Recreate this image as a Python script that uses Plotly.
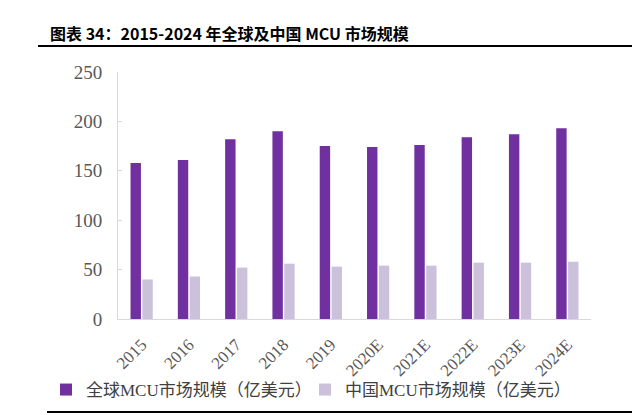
import plotly.graph_objects as go

years = ["2015", "2016", "2017", "2018", "2019", "2020E", "2021E", "2022E", "2023E", "2024E"]
global_mcu = [158, 161, 182, 190, 175, 174, 176, 184, 187, 193]
china_mcu = [40, 43, 52, 56, 53, 54, 54, 57, 57, 58]

# the page puts the figure 8px in from the top-left corner, so the figure is
# made 8px smaller and reference pixel positions are shifted by OFF
OFF = 8
W, H = 640 - OFF, 415 - OFF
L, R, T, B = 118 - OFF, 49, 72 - OFF, 96
PW, PH = W - L - R, H - T - B


def px(x):
    return (x - OFF - L) / PW


def py(y):
    return 1 - (y - OFF - T) / PH


SERIF = "Liberation Serif, Times New Roman, Noto Sans CJK SC, serif"

fig = go.Figure()
fig.add_trace(go.Bar(x=years, y=global_mcu, name="全球MCU市场规模（亿美元）",
                     marker=dict(color="#7030A0", line=dict(width=0))))
fig.add_trace(go.Bar(x=years, y=china_mcu, name="中国MCU市场规模（亿美元）",
                     marker=dict(color="#CCC1DA", line=dict(width=0))))

fig.update_layout(
    width=W, height=H,
    margin=dict(l=L, r=R, t=T, b=B, autoexpand=False),
    paper_bgcolor="white", plot_bgcolor="white",
    barmode="group", bargap=0.5, bargroupgap=0.12,
    font=dict(family=SERIF, size=16, color="#595959"),
    legend=dict(orientation="h", x=px(46), y=py(390), xanchor="left", yanchor="middle",
                font=dict(family=SERIF, size=17, color="#404040"),
                bgcolor="rgba(0,0,0,0)",
                entrywidth=214, entrywidthmode="pixels",
                itemwidth=30, traceorder="normal"),
    showlegend=True,
)
fig.update_xaxes(showline=True, linecolor="#D9D9D9", linewidth=1, tickangle=-45,
                 ticks="", automargin=False, ticklabelstandoff=8,
                 tickfont=dict(family=SERIF, size=17, color="#595959"))
fig.update_yaxes(range=[0, 250], dtick=50, showgrid=False, zeroline=False,
                 showline=True, linecolor="#D9D9D9", linewidth=1,
                 ticks="inside", ticklen=4, tickcolor="#D9D9D9", automargin=False,
                 ticklabelstandoff=11,
                 tickfont=dict(family=SERIF, size=19, color="#595959"))

fig.add_annotation(text="<b>图表 34：2015-2024 年全球及中国 MCU 市场规模</b>",
                   xref="paper", yref="paper", x=px(48), y=py(33),
                   xanchor="left", yanchor="middle", showarrow=False,
                   font=dict(family="Noto Sans CJK SC", size=16, color="black"))
fig.add_shape(type="line", xref="paper", yref="paper",
              x0=px(38), x1=px(648), y0=py(46), y1=py(46),
              line=dict(color="black", width=2))
fig.add_shape(type="line", xref="paper", yref="paper",
              x0=px(47), x1=px(648), y0=py(412), y1=py(412),
              line=dict(color="black", width=2))

fig.write_html("out.html")
